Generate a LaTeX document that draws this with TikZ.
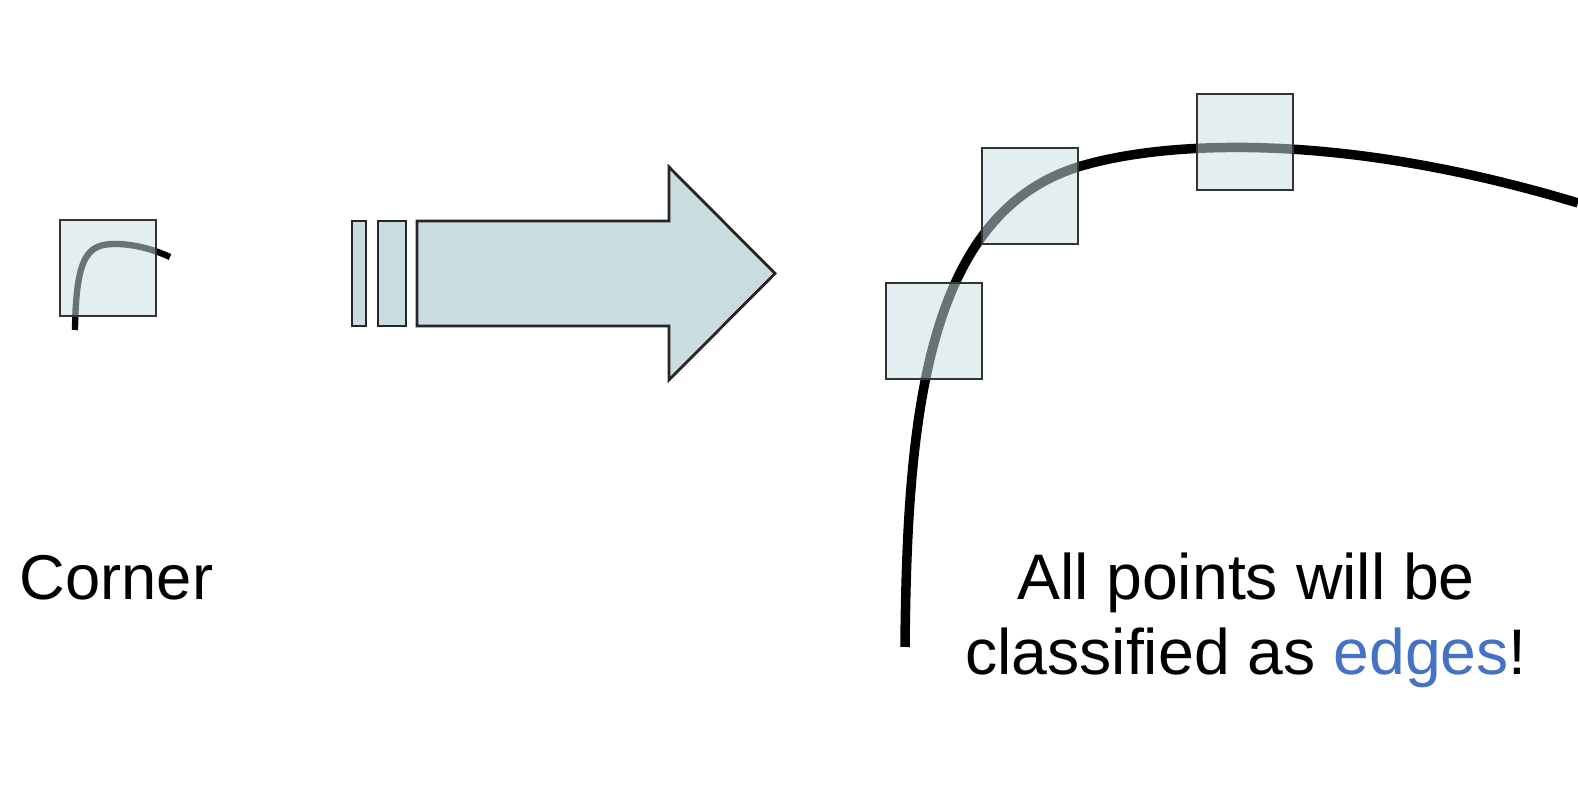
\documentclass[tikz,border=0pt]{standalone}
\usepackage{fontspec}
\setmainfont{Liberation Sans}
\definecolor{winfill}{RGB}{200,222,226}
\definecolor{arrfill}{RGB}{201,221,225}
\definecolor{edgeblue}{RGB}{68,114,196}
\begin{document}
\begin{tikzpicture}[x=0.01cm, y=-0.01cm, line join=miter,
  win node/.style={rectangle,draw=black!80,line width=0.8pt,fill=winfill,fill opacity=0.52,minimum size=0.96cm,inner sep=0pt},
  arr part/.style={draw=black!85,line width=0.8pt,fill=arrfill},
  label node/.style={font=\fontsize{18}{21.6}\selectfont,inner sep=0pt}]
\useasboundingbox (0,0) rectangle (1578,792);
%small corner
\draw[line width=1.8pt] (75,330) .. controls (76,255) and (88,244) .. (115,244) .. controls (135,244) and (155,250) .. (170,257);
\node[win node] (w0) at (108,268) {};
\node[label node,anchor=base west] (corner) at (19,600) {Corner};
%arrow
\begin{scope}[every path/.style={arr part}]
\draw (352,221) rectangle (366,326);
\draw (378,221) rectangle (406,326);
\draw (417,221) -- (669,221) -- (669,167) -- (775,273.5) -- (669,380) -- (669,326) -- (417,326) -- cycle;
\end{scope}
%big curve
\draw[line width=2.7pt] (905,647) .. controls (907,420) and (925,215) .. (1078,167) .. controls (1155,143) and (1330,128) .. (1578,203);
\node[win node] (w1) at (934,331) {};
\node[win node] (w2) at (1030,196) {};
\node[win node] (w3) at (1245,142) {};
\node[label node,font=\fontsize{18.3}{21.6}\selectfont,align=center,anchor=base] (note) at (1246,675) {All points will be\\classified as \textcolor{edgeblue}{edges}!};
\end{tikzpicture}
\end{document}
